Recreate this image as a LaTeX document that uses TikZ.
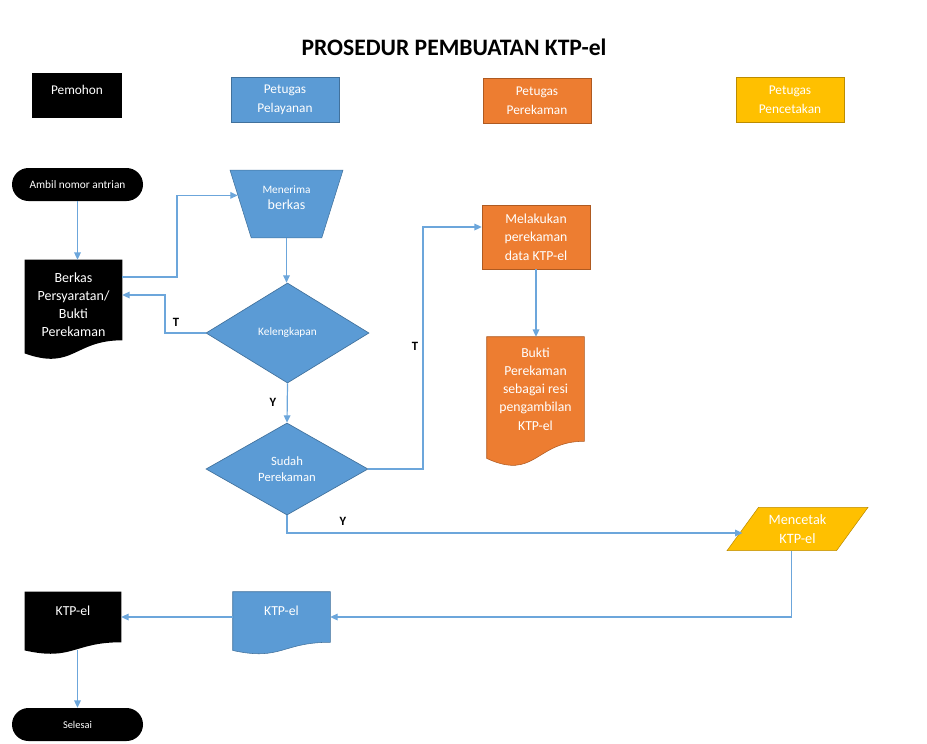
\documentclass[tikz,border=0pt]{standalone}
\usepackage{fontspec}
\setmainfont{Carlito}
\usetikzlibrary{shapes.geometric,shapes.misc,arrows.meta,backgrounds,calc}

\definecolor{flowblue}{RGB}{91,155,213}
\definecolor{flowbluedk}{RGB}{65,113,156}
\definecolor{floworange}{RGB}{237,125,49}
\definecolor{floworangedk}{RGB}{174,90,33}
\definecolor{flowyellow}{RGB}{255,192,0}
\definecolor{flowyellowdk}{RGB}{188,140,0}
\definecolor{linkblue}{RGB}{108,166,219}

\tikzset{
  link/.style={draw=linkblue, line width=0.9pt, -{Triangle[length=5.5pt,width=5pt]}},
  lane/.style={minimum width=81pt, minimum height=33.75pt, inner sep=0pt, align=center,
    text=white, font=\fontsize{10}{14}\selectfont},
  terminal/.style={rounded rectangle, fill=black, text=white, minimum width=98.25pt,
    minimum height=24.75pt, inner sep=0pt},
  decision/.style={diamond, fill=flowblue, draw=flowbluedk, line width=0.5pt, text=white,
    inner sep=0pt, align=center},
  doctext/.style={inner sep=0pt, align=center, text=white},
  yesno/.style={font=\fontsize{9.5}{11}\selectfont\bfseries},
}

% wavy bottom of a document box: node, options, full height
\newcommand{\docshape}[3]{%
  \path[#2] (#1.north west) -- (#1.north east) -- (#1.south east)
    .. controls (#1.south) and ([yshift=-0.305*#3]#1.south) ..
    ([yshift=-0.132*#3]#1.south west) -- cycle;}

\begin{document}
\begin{tikzpicture}[x=0.75pt, y=-0.75pt]
  \useasboundingbox (0,0) rectangle (927,743);

  \node[font=\fontsize{17.7}{21}\selectfont\bfseries] (title) at (454,47) {PROSEDUR PEMBUATAN KTP-el};

  % lanes
  \node[lane, fill=black, minimum width=67.5pt, anchor=base, text height=15.75pt, text depth=18pt]
    (pemohon) at (77,94) {Pemohon};
  \node[lane, fill=flowblue, draw=flowbluedk] (pelayanan) at (285,99.5) {Petugas\\Pelayanan};
  \node[lane, fill=floworange, draw=floworangedk] (perekaman) at (537,100.5) {Petugas\\Perekaman};
  \node[lane, fill=flowyellow, draw=flowyellowdk] (pencetakan) at (790,100) {Petugas\\Pencetakan};

  % steps
  \node[terminal, font=\fontsize{8.5}{10}\selectfont] (ambil) at (77.5,184.5) {Ambil nomor antrian};
  \node[doctext, minimum width=72.75pt, minimum height=60pt, font=\fontsize{10.5}{13.5}\selectfont]
    (berkas) at (73.5,300) {\rule{0pt}{15pt}Berkas\\Persyaratan/\\Bukti\\Perekaman};
  \node[trapezium, trapezium left angle=72.6, trapezium right angle=72.6, shape border rotate=180,
    trapezium stretches body, minimum width=84.75pt, inner xsep=0pt, inner ysep=11.5pt,
    fill=flowblue, draw=flowbluedk, text=white, align=center]
    (menerima) at (286.5,204)
    {{\fontsize{8.5}{10}\selectfont Menerima}\\{\fontsize{10.5}{13}\selectfont berkas\rule[-10pt]{0pt}{10pt}}};
  \node[decision, minimum width=122.25pt, minimum height=75pt, font=\fontsize{8.5}{10}\selectfont]
    (lengkap) at (287.5,333) {Kelengkapan};
  \node[decision, minimum width=121.5pt, minimum height=69pt, font=\fontsize{9.5}{12}\selectfont]
    (sudah) at (287,469) {Sudah\\Perekaman};
  \node[fill=floworange, draw=floworangedk, minimum width=81pt, minimum height=48pt, inner sep=0pt,
    text=white, align=center, font=\fontsize{10.3}{14}\selectfont]
    (rekam) at (536,237) {Melakukan\\perekaman\\data KTP-el};
  \node[doctext, minimum width=72.75pt, minimum height=78pt, font=\fontsize{10.3}{13.7}\selectfont]
    (bukti) at (535.5,389) {Bukti\\Perekaman\\sebagai resi\\pengambilan\\KTP-el};
  \node[trapezium, trapezium left angle=54, trapezium right angle=126, trapezium stretches body,
    minimum width=105.75pt, inner xsep=0pt, inner ysep=5.5pt, fill=flowyellow, draw=flowyellowdk,
    text=white, align=center, font=\fontsize{10.7}{14}\selectfont]
    (mencetak) at (797.5,529) {Mencetak\\KTP-el};
  \node[doctext, minimum width=72.75pt, minimum height=37.5pt, font=\fontsize{10.3}{12}\selectfont]
    (ktpbiru) at (281.5,617) {KTP-el\rule[-9pt]{0pt}{9pt}};
  \node[doctext, minimum width=72pt, minimum height=37.5pt, font=\fontsize{10.3}{12}\selectfont]
    (ktphitam) at (73,617) {KTP-el\rule[-9pt]{0pt}{9pt}};
  \node[terminal, font=\fontsize{7.8}{9}\selectfont] (selesai) at (77.5,724.5) {Selesai};

  \begin{pgfonlayer}{background}
    \docshape{berkas}{fill=black}{75pt}
    \docshape{bukti}{fill=floworange, draw=floworangedk}{97.5pt}
    \docshape{ktpbiru}{fill=flowblue, draw=flowbluedk}{46.5pt}
    \docshape{ktphitam}{fill=black}{46.5pt}
  \end{pgfonlayer}

  % connectors
  \draw[link] (ambil.south) -- (ambil.south |- berkas.north);
  \draw[link] ([yshift=17.25pt]berkas.east) -- (177,277) |- (menerima.170);
  \draw[link] (menerima.south) -- (menerima.south |- lengkap.north);
  \draw[link] (lengkap.west) -- (165,333) |- ([yshift=3.75pt]berkas.east);
  \node[yesno] (t1) at (176,322) {T};
  \draw[link] (lengkap.south) -- (sudah.north);
  \node[yesno] (y1) at (273,402) {Y};
  \draw[link] (sudah.east) -- (423,469) |- ([yshift=7.5pt]rekam.west);
  \node[yesno] (t2) at (415,346) {T};
  \draw[link] (rekam.south) -- (rekam.south |- bukti.north);
  \draw[link] (sudah.south) |- ([yshift=-3pt]mencetak.west);
  \node[yesno] (y2) at (343,521) {Y};
  \draw[link] ([xshift=-4.5pt]mencetak.south) |- (ktpbiru.east);
  \draw[link] (ktpbiru.west) -- (ktphitam.east);
  \draw[link] ($(selesai.north |- ktphitam.south)+(0,8)$) -- (selesai.north);
\end{tikzpicture}
\end{document}
